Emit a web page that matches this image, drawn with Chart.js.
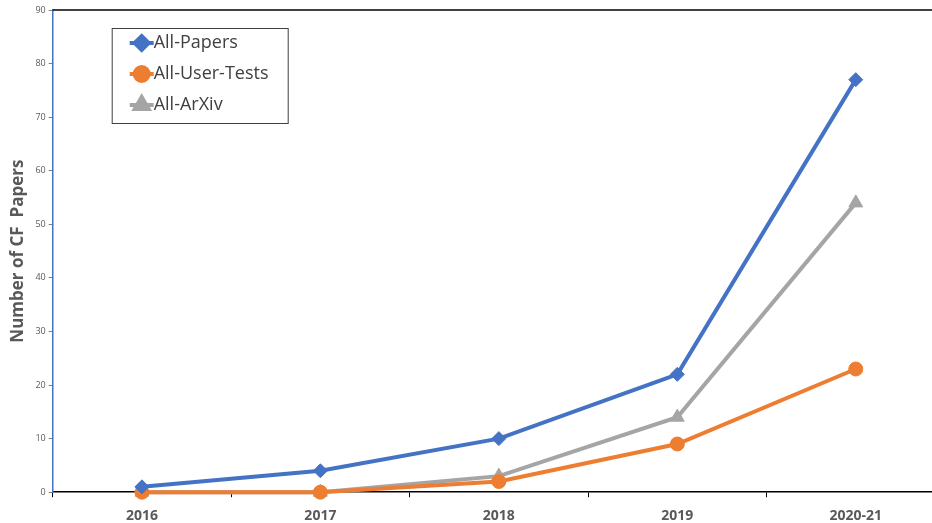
<!DOCTYPE html>
<html>
<head>
<meta charset="utf-8">
<script src="https://cdn.jsdelivr.net/npm/chart.js@4"></script>
<style>
  html, body { margin: 0; padding: 0; background: #fff; overflow: hidden; }
  #wrap { position: relative; width: 954px; height: 536px; }
</style>
</head>
<body>
<div id="wrap"><canvas id="c"></canvas></div>
<script>
// Number of CF papers per year
const years = ['2016', '2017', '2018', '2019', '2020-21'];
const allPapers = [1, 4, 10, 22, 77];
const userTests = [0, 0, 2, 9, 23];
const arxiv = [0, 0, 3, 14, 54];
const yTicks = [0, 10, 20, 30, 40, 50, 60, 70, 80, 90];

const BLUE = '#4472c4', ORANGE = '#ed7d31', GRAY = '#a5a5a5', TXT = '#595959';

// legend box inside the plot, Excel style
const boxLegend = {
  id: 'boxLegend',
  afterDraw(chart) {
    const { ctx, chartArea: a } = chart;
    // top frame line
    ctx.save();
    ctx.strokeStyle = '#000';
    ctx.lineWidth = 1.5;
    ctx.beginPath();
    ctx.moveTo(a.left, a.top);
    ctx.lineTo(a.right, a.top);
    ctx.stroke();

    const x0 = a.left + 59, y0 = a.top + 18, w = 176, h = 95;
    ctx.strokeStyle = '#404040';
    ctx.lineWidth = 1;
    ctx.strokeRect(x0 + 0.5, y0 + 0.5, w, h);
    ctx.font = '18px "Open Sans", "DejaVu Sans", sans-serif';
    ctx.textBaseline = 'middle';
    chart.data.datasets.forEach((ds, i) => {
      const cy = y0 + 15 + i * 31;
      const mx = x0 + 30;
      ctx.strokeStyle = ds.borderColor;
      ctx.lineWidth = 4;
      ctx.beginPath();
      ctx.moveTo(mx - 12, cy);
      ctx.lineTo(mx + 12, cy);
      ctx.stroke();
      Chart.helpers.drawPoint(ctx, {
        pointStyle: ds.pointStyle, radius: ds.pointRadius, rotation: ds.pointRotation || 0,
        borderWidth: 1
      }, mx, cy);
      ctx.fillStyle = ds.borderColor;
      ctx.fill();
      ctx.fillStyle = '#404040';
      ctx.fillText(ds.label, mx + 12, cy);
    });
    ctx.restore();
  }
};

new Chart(document.getElementById('c'), {
  type: 'line',
  data: {
    labels: years,
    datasets: [
      { label: 'All-Papers', data: allPapers, borderColor: BLUE, backgroundColor: BLUE,
        pointStyle: 'rectRot', pointRadius: 7, pointHoverRadius: 7 },
      { label: 'All-User-Tests', data: userTests, borderColor: ORANGE, backgroundColor: ORANGE,
        pointStyle: 'circle', pointRadius: 7, pointHoverRadius: 7 },
      { label: 'All-ArXiv', data: arxiv, borderColor: GRAY, backgroundColor: GRAY,
        pointStyle: 'triangle', pointRadius: 8, pointHoverRadius: 8 },
    ].map(d => ({ ...d, borderWidth: 4, tension: 0, pointBorderWidth: 1, clip: false }))
  },
  options: {
    responsive: true,
    maintainAspectRatio: false,
    animation: false,
    layout: { padding: { top: 10, right: 2, bottom: 2, left: 0 } },
    plugins: { legend: { display: false }, tooltip: { enabled: false } },
    scales: {
      x: {
        offset: true,
        grid: { offset: true, drawOnChartArea: false, tickLength: 5, color: '#000' },
        border: { color: '#000', width: 1.5 },
        ticks: { color: TXT, padding: 10, font: { size: 14, weight: 'bold', family: '"Open Sans", sans-serif' } }
      },
      y: {
        min: 0, max: 90,
        afterBuildTicks: s => { s.ticks = yTicks.map(v => ({ value: v })); },
        grid: { drawOnChartArea: false, tickLength: 4, color: '#7f7f7f' },
        border: { color: BLUE, width: 1.5 },
        ticks: { color: TXT, padding: 3, font: { size: 9, family: '"Open Sans", sans-serif' } },
        title: { display: true, text: 'Number of CF  Papers', color: TXT, padding: { top: 8, bottom: 4 },
          font: { size: 17, weight: 'bold', family: '"Open Sans", sans-serif' } }
      }
    }
  },
  plugins: [boxLegend]
});
</script>
</body>
</html>
